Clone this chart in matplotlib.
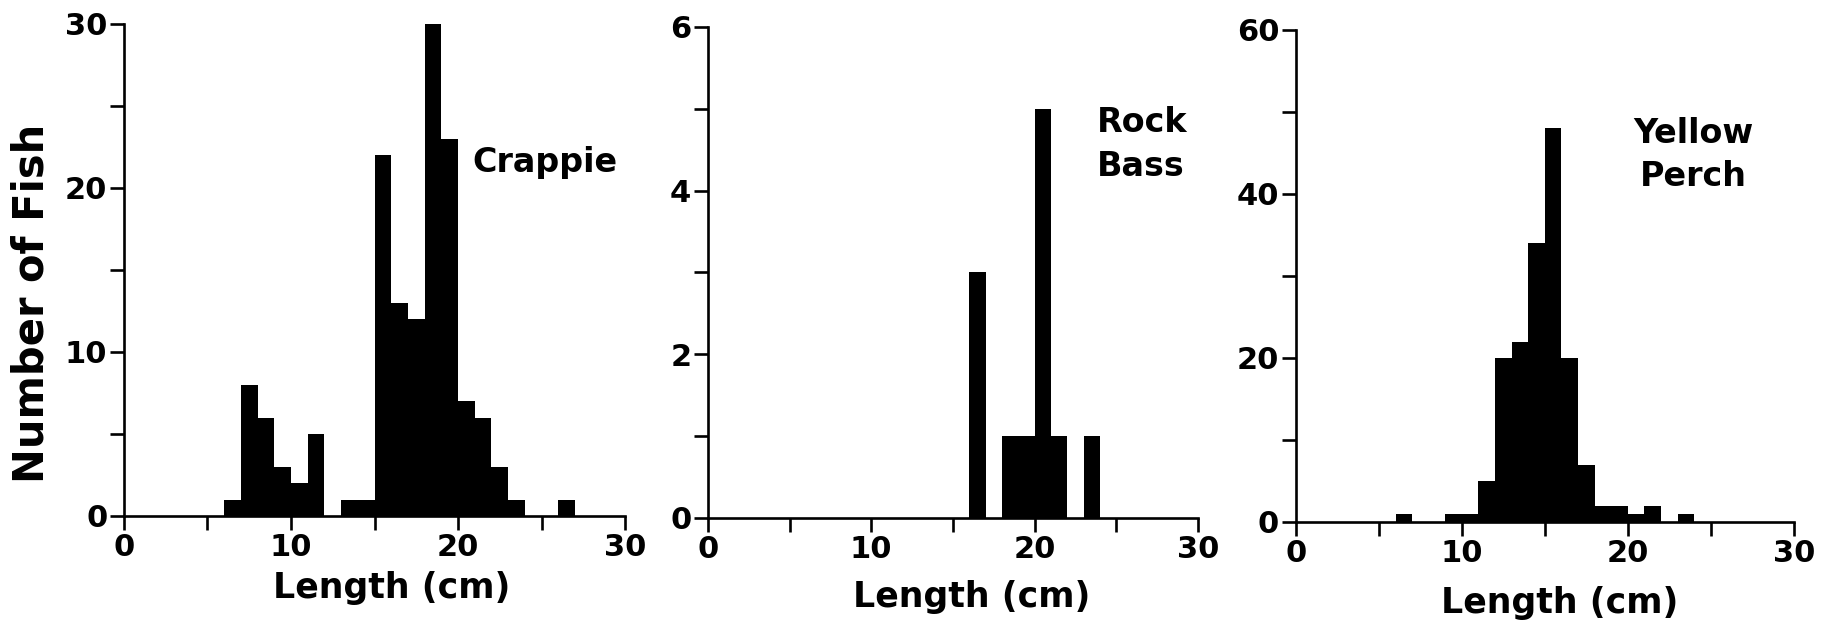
import matplotlib

matplotlib.use("Agg")
import matplotlib.pyplot as plt
from matplotlib.ticker import MultipleLocator

# length bins (cm, left edge) and counts per species
crappie_bins = [6, 7, 8, 9, 10, 11, 12, 13, 14, 15, 16, 17, 18, 19, 20, 21, 22, 23, 24, 25, 26]
crappie_counts = [1, 8, 6, 3, 2, 5, 0, 1, 1, 22, 13, 12, 30, 23, 7, 6, 3, 1, 0, 0, 1]

rockbass_bins = [16, 17, 18, 19, 20, 21, 22, 23]
rockbass_counts = [3, 0, 1, 1, 5, 1, 0, 1]

perch_bins = [6, 7, 8, 9, 10, 11, 12, 13, 14, 15, 16, 17, 18, 19, 20, 21, 22, 23]
perch_counts = [1, 0, 0, 1, 1, 5, 20, 22, 34, 48, 20, 7, 2, 2, 1, 2, 0, 1]

species = ["Crappie", "Rock\nBass", "Yellow\nPerch"]
y_tops = [30, 6, 60]
y_major = [10, 2, 20]
y_minor = [5, 1, 10]

plt.rcParams["font.family"] = "DejaVu Sans"
plt.rcParams["font.weight"] = "bold"

fig = plt.figure(figsize=(18.26, 6.24), dpi=100)
axes = [
    fig.add_axes([0.0679, 0.1731, 0.2744, 0.7885]),
    fig.add_axes([0.3877, 0.1699, 0.2683, 0.7869]),
    fig.add_axes([0.7097, 0.1635, 0.2727, 0.7885]),
]
data = [
    (crappie_bins, crappie_counts),
    (rockbass_bins, rockbass_counts),
    (perch_bins, perch_counts),
]
label_pos = [(0.695, 0.7175, "left"), (0.794, 0.7607, "left"), (0.799, 0.746, "center")]

for i, ax in enumerate(axes):
    bins, counts = data[i]
    ax.bar(bins, counts, width=1.0, align="edge", color="black", edgecolor="black", linewidth=0)
    ax.set_xlim(0, 30)
    ax.set_ylim(0, y_tops[i])
    ax.xaxis.set_major_locator(MultipleLocator(10))
    ax.xaxis.set_minor_locator(MultipleLocator(5))
    ax.yaxis.set_major_locator(MultipleLocator(y_major[i]))
    ax.yaxis.set_minor_locator(MultipleLocator(y_minor[i]))
    ax.spines["top"].set_visible(False)
    ax.spines["right"].set_visible(False)
    for s in ("left", "bottom"):
        ax.spines[s].set_linewidth(1.9)
    ax.tick_params(which="both", direction="out", length=10, width=1.9, pad=2)
    ax.tick_params(which="major", labelsize=22)
    for lab in ax.get_xticklabels() + ax.get_yticklabels():
        lab.set_fontweight("bold")
    x, y, ha = label_pos[i]
    ax.text(x, y, species[i], transform=ax.transAxes, ha=ha, va="center",
            fontsize=24, fontweight="bold", linespacing=1.4)

fig.text(0.017, 0.5144, "Number of Fish", rotation=90, ha="center", va="center",
         fontsize=30, fontweight="bold")
for xf, yf in [(0.2147, 0.0577), (0.5323, 0.0433), (0.8543, 0.0337)]:
    fig.text(xf, yf, "Length (cm)", ha="center", va="center", fontsize=25, fontweight="bold")

fig.savefig("out.png", dpi=100)
